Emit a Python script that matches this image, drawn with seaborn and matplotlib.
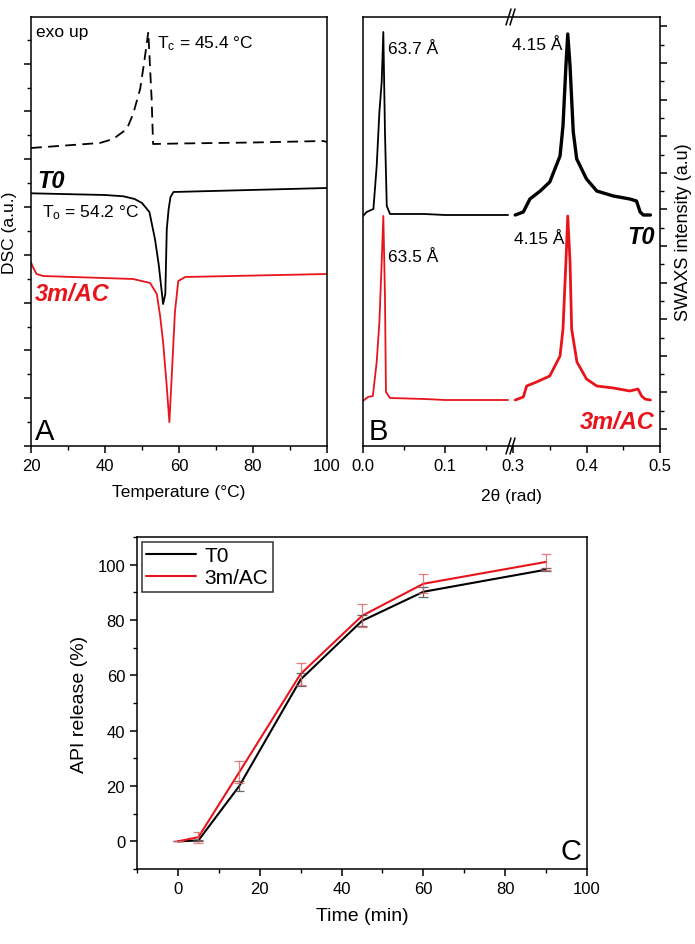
import numpy as np
import pandas as pd
import matplotlib
matplotlib.use("Agg")
import matplotlib.pyplot as plt
import seaborn as sns
from matplotlib.ticker import MultipleLocator, NullFormatter, FixedLocator
from matplotlib.lines import Line2D

# ---------------- Panel A : DSC (arbitrary units) ----------------
dsc_cool_T = [20, 38.6, 42.2, 45.9, 47.6, 49.5, 50.6, 51.7, 52.6, 53.0, 60, 80, 99, 100]
dsc_cool_v = [298, 303, 307, 317, 332, 357, 384, 414, 347, 302, 302.5, 303.5, 305, 304]
dsc_t0_T = [20, 40, 45, 48, 50, 52, 53.5, 54.5, 55.7, 56.3, 56.7, 57.2, 57.7, 58.5, 100]
dsc_t0_v = [252.7, 251, 249.7, 247, 243, 234, 207, 182, 142, 152, 217, 237, 249, 254, 258]
dsc_ac_T = [20, 20.5, 21.5, 23.3, 47.6, 52.2, 54, 54.9, 55.7, 56.6, 57.4, 58.0, 58.9, 59.8, 61.7, 100]
dsc_ac_v = [183.7, 179, 172, 170, 167, 163, 152, 130, 104, 64, 24, 67, 134, 165, 169, 172]

# ---------------- Panel B : SWAXS (arbitrary units) ----------------
saxs_q_t0 = [0.0, 0.0045, 0.0127, 0.0167, 0.02, 0.0228, 0.0248, 0.0268, 0.029, 0.033, 0.075, 0.1, 0.177]
saxs_t0 = [230, 234, 237, 280, 334, 364, 414, 314, 240, 232, 232, 231, 231]
saxs_q_ac = [0.0, 0.006, 0.012, 0.0167, 0.02, 0.0228, 0.0248, 0.0268, 0.028, 0.033, 0.075, 0.1, 0.177]
saxs_ac = [45, 49, 50, 84, 124, 184, 230, 150, 54, 48, 47, 46, 46]

waxs_q_t0 = [0.303, 0.314, 0.323, 0.337, 0.350, 0.364, 0.368, 0.372, 0.3745, 0.3776, 0.382,
             0.3867, 0.400, 0.414, 0.4365, 0.459, 0.468, 0.473, 0.4773, 0.487]
waxs_t0 = [231, 234, 247, 255, 264, 290, 320, 380, 412, 380, 314, 287, 267, 255, 250, 247,
           245, 234, 231, 231]
waxs_q_ac = [0.303, 0.314, 0.3186, 0.332, 0.350, 0.364, 0.368, 0.372, 0.3745, 0.3776, 0.3798,
             0.387, 0.400, 0.414, 0.4365, 0.459, 0.470, 0.475, 0.4796, 0.487]
waxs_ac = [46, 49, 60, 64, 70, 90, 117, 184, 230, 184, 117, 84, 67, 60, 58, 55, 57, 50, 47, 46]

# ---------------- Panel C : release ----------------
time_min = [0, 5, 15, 30, 45, 60, 90]
rel_t0 = [0, 0.3, 20, 58.5, 79.7, 90.2, 98.2]
err_t0 = [0, 0.3, 1.7, 2.3, 2.0, 1.8, 0.5]
rel_ac = [0, 1.5, 25, 60.5, 81.5, 93.1, 101]
err_ac = [0, 2.0, 4.0, 4.0, 4.2, 3.5, 3.0]

RED = "#e8141c"

sns.set_theme(style="ticks")
plt.rcParams["font.family"] = ["Liberation Sans", "DejaVu Sans"]
plt.rcParams["mathtext.default"] = "regular"
plt.rcParams.update({
    "axes.linewidth": 1.1,
    "xtick.major.width": 1.1, "ytick.major.width": 1.1,
    "xtick.minor.width": 1.0, "ytick.minor.width": 1.0,
    "xtick.major.size": 5, "ytick.major.size": 5,
    "xtick.minor.size": 3, "ytick.minor.size": 3,
    "xtick.direction": "out", "ytick.direction": "out",
    "xtick.color": "black", "ytick.color": "black",
    "axes.edgecolor": "black", "text.color": "black",
    "axes.labelcolor": "black",
})

W, H = 695, 945
fig = plt.figure(figsize=(W / 100, H / 100), dpi=100)


def px_axes(l, t, r, b):
    return fig.add_axes([l / W, 1 - b / H, (r - l) / W, (b - t) / H])


def ftext(x, y, s, **kw):
    fig.text(x / W, 1 - y / H, s, **kw)


# ---------- Panel A ----------
axA = px_axes(31, 18, 327, 447)
sns.lineplot(x=dsc_cool_T, y=dsc_cool_v, ax=axA, color="black", lw=1.3,
             dashes=False, estimator=None, sort=False)
axA.lines[-1].set_dashes((6, 3.5))
sns.lineplot(x=dsc_t0_T, y=dsc_t0_v, ax=axA, color="black", lw=1.3, estimator=None, sort=False)
sns.lineplot(x=dsc_ac_T, y=dsc_ac_v, ax=axA, color=RED, lw=1.3, estimator=None, sort=False)
axA.set_xlim(20, 100)
axA.set_ylim(0, 429)
axA.xaxis.set_major_locator(MultipleLocator(20))
axA.xaxis.set_minor_locator(MultipleLocator(10))
axA.yaxis.set_major_locator(MultipleLocator(47.8))
axA.yaxis.set_minor_locator(MultipleLocator(23.9))
axA.yaxis.set_major_formatter(NullFormatter())
axA.tick_params(labelsize=12, top=False, right=False)
axA.set_xlabel("Temperature (°C)", fontsize=12.5, labelpad=8)
axA.set_ylabel("DSC (a.u.)", fontsize=12.5, labelpad=1.5)

ftext(36, 33, "exo up", fontsize=12.5, va="center")
ftext(157, 44, "T$_c$ = 45.4 °C", fontsize=12.5, va="center")
ftext(37, 181, "T0", fontsize=17, fontweight="bold", style="italic", va="center")
ftext(42, 213, "T$_o$ = 54.2 °C", fontsize=12.5, va="center")
ftext(35, 295, "3m/AC", fontsize=17, fontweight="bold", style="italic", va="center", color=RED)
ftext(35, 432, "A", fontsize=21, va="center")

# ---------- Panel B ----------
axB1 = px_axes(363, 18, 513, 447)
axB2 = px_axes(513, 18, 660, 447)
sns.lineplot(x=saxs_q_t0, y=saxs_t0, ax=axB1, color="black", lw=1.3, estimator=None, sort=False)
sns.lineplot(x=saxs_q_ac, y=saxs_ac, ax=axB1, color=RED, lw=1.3, estimator=None, sort=False)
sns.lineplot(x=waxs_q_t0, y=waxs_t0, ax=axB2, color="black", lw=2.4, estimator=None, sort=False)
sns.lineplot(x=waxs_q_ac, y=waxs_ac, ax=axB2, color=RED, lw=2.0, estimator=None, sort=False)
axB1.set_xlim(0, 0.183)
axB2.set_xlim(0.3, 0.5)
for ax in (axB1, axB2):
    ax.set_ylim(0, 429)
    ax.tick_params(labelsize=12)
    ax.set_xlabel("")
axB1.xaxis.set_major_locator(FixedLocator([0.0, 0.1]))
axB1.xaxis.set_minor_locator(FixedLocator([0.05, 0.15]))
axB1.set_xticklabels(["0.0", "0.1"])
axB2.xaxis.set_major_locator(FixedLocator([0.3, 0.4, 0.5]))
axB2.xaxis.set_minor_locator(FixedLocator([0.35, 0.45]))
axB2.set_xticklabels(["0.3", "0.4", "0.5"])
axB1.spines["right"].set_visible(False)
axB2.spines["left"].set_visible(False)
axB1.tick_params(axis="y", left=False, right=False, labelleft=False)
axB2.tick_params(axis="y", left=False, right=True, which="both", labelleft=False, labelright=False)
axB2.tick_params(axis="x", which="both", bottom=True)
axB2.yaxis.set_major_locator(MultipleLocator(36.6, offset=17))
axB2.yaxis.set_minor_locator(MultipleLocator(36.6, offset=35.3))
axB2.yaxis.set_label_position("right")
axB2.set_ylabel("SWAXS intensity (a.u)", fontsize=13, labelpad=6)
axB1.set_ylabel("")
ftext(511, 497, "2θ (rad)", fontsize=12.5, ha="center", va="center")

# break marks
for yb in (18, 447):
    for dx in (-4, 0):
        fig.add_artist(Line2D([(513 + dx - 3) / W, (513 + dx + 2) / W],
                              [1 - (yb + 8) / H, 1 - (yb - 8) / H],
                              transform=fig.transFigure, color="black", lw=1.1))

ftext(388, 50, "63.7 Å", fontsize=12.5, va="center")
ftext(563, 45, "4.15 Å", fontsize=12.5, va="center", ha="right")
ftext(388, 257, "63.5 Å", fontsize=12.5, va="center")
ftext(565, 239, "4.15 Å", fontsize=12.5, va="center", ha="right")
ftext(655, 238, "T0", fontsize=17, fontweight="bold", style="italic", va="center", ha="right")
ftext(655, 423, "3m/AC", fontsize=17, fontweight="bold", style="italic", va="center", ha="right",
      color=RED)
ftext(369, 432, "B", fontsize=21, va="center")

# ---------- Panel C ----------
axC = px_axes(137, 538, 587, 870)
dfC = pd.DataFrame({
    "Time": time_min * 2,
    "Release": rel_t0 + rel_ac,
    "Sample": ["T0"] * len(time_min) + ["3m/AC"] * len(time_min),
})
sns.lineplot(data=dfC, x="Time", y="Release", hue="Sample", palette={"T0": "black", "3m/AC": RED},
             ax=axC, lw=1.5, estimator=None)
axC.errorbar(time_min, rel_t0, yerr=err_t0, fmt="none", ecolor="#444444", elinewidth=0.9,
             capsize=3.5, capthick=0.9, alpha=0.8)
axC.errorbar(time_min, rel_ac, yerr=err_ac, fmt="none", ecolor="#e06060", elinewidth=0.9,
             capsize=3.5, capthick=0.9, alpha=0.8)
axC.set_xlim(-10, 100)
axC.set_ylim(-10, 110)
axC.xaxis.set_major_locator(MultipleLocator(20))
axC.xaxis.set_minor_locator(MultipleLocator(10))
axC.yaxis.set_major_locator(MultipleLocator(20))
axC.yaxis.set_minor_locator(MultipleLocator(10))
axC.tick_params(labelsize=12, top=False, right=False)
axC.set_xlabel("Time (min)", fontsize=14, labelpad=8)
axC.set_ylabel("API release (%)", fontsize=14, labelpad=7)
leg = axC.legend(title=None, loc="upper left", fontsize=15, frameon=True, fancybox=False,
                 edgecolor="black", handlelength=2.4, borderpad=0.2, labelspacing=0.15,
                 handletextpad=0.4, borderaxespad=0.25)
leg.get_frame().set_linewidth(1.1)
ftext(582, 852, "C", fontsize=21, va="center", ha="right")

fig.savefig("out.png", dpi=100)
